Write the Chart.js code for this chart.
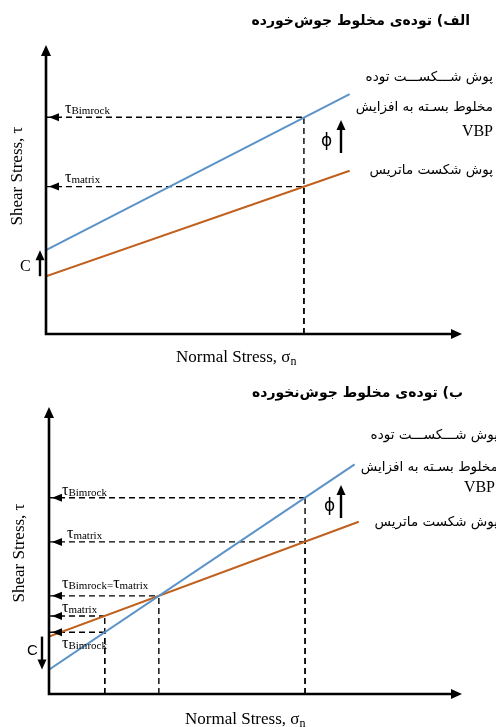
<!DOCTYPE html>
<html>
<head>
<meta charset="utf-8">
<script src="https://cdn.jsdelivr.net/npm/chart.js@4.4.1/dist/chart.umd.min.js"></script>
<style>
  html, body { margin: 0; padding: 0; background: #ffffff; }
  body { position: relative; width: 496px; height: 727px; overflow: hidden; }
  canvas { position: absolute; left: 0; }
</style>
</head>
<body>
<canvas id="panelA" width="496" height="365" style="top:0px"></canvas>
<canvas id="panelB" width="496" height="362" style="top:365px"></canvas>
<script>
// Both panels share the same schematic stress range
const sigmaRange = [0, 100];
const tauRange = [0, 100];

// (a) welded bimrock: failure envelopes as endpoints (sigma, tau)
const bimrockSigmaA = [0, 73];
const bimrockTauA = [29, 83];
const matrixSigmaA = [0, 73];
const matrixTauA = [20, 56.5];
// read-off points on the envelopes
const readSigmaA = [62, 62];
const readTauA = [75, 51];
const readLabelsA = ['τBimrock', 'τmatrix'];

// (b) unwelded bimrock
const bimrockSigmaB = [0, 74];
const bimrockTauB = [8.5, 80];
const matrixSigmaB = [0, 75];
const matrixTauB = [20, 60];
const readSigmaB = [62, 62, 26.6, 13.5, 13.5];
const readTauB = [68.4, 53, 34.2, 27.2, 21.5];
const readLabelsB = ['τBimrock', 'τmatrix', 'τBimrock=τmatrix', 'τmatrix', 'τBimrock'];

const titleA = 'الف) توده‌ی مخلوط جوش‌خورده';
const titleB = 'ب) توده‌ی مخلوط جوش‌نخورده';
// kashida (ـ) marks where justified lines are stretched
const bimrockNote = ['پوش شـکسـت توده', 'مخلوط بسـته به افزایش', 'VBP'];
const matrixNote = 'پوش شکست ماتریس';
const xTitle = ['Normal Stress, σ', 'n'];
const yTitle = 'Shear Stress, τ';

const BLUE = '#5b93c8';
const ORANGE = '#c0601d';
const INK = '#000000';
const SERIF = "'Liberation Serif', 'Times New Roman', serif";
const ARABIC = "'DejaVu Sans', sans-serif";

function pts(xs, ys) { return xs.map((x, i) => ({ x: x, y: ys[i] })); }

function guideSets(sig, tau) {
  const sets = [];
  sig.forEach((s, i) => {
    sets.push({ data: [{ x: sigmaRange[0], y: tau[i] }, { x: s, y: tau[i] }] });
    sets.push({ data: [{ x: s, y: tauRange[0] }, { x: s, y: tau[i] }] });
  });
  return sets.map(d => Object.assign(d, {
    borderColor: INK, borderWidth: 1.4, borderDash: [6, 4], pointRadius: 0, showLine: true, order: 2
  }));
}

function arrowHead(ctx, x, y, dir, len, half) {
  ctx.save();
  ctx.translate(x, y);
  ctx.rotate(dir);
  ctx.beginPath();
  ctx.moveTo(0, 0);
  ctx.lineTo(-len, -half);
  ctx.lineTo(-len, half);
  ctx.closePath();
  ctx.fill();
  ctx.restore();
}

function arrow(ctx, x, y0, y1) {
  // vertical arrow from y0 to tip y1
  const dir = y1 < y0 ? -Math.PI / 2 : Math.PI / 2;
  const sgn = y1 < y0 ? 1 : -1;
  ctx.beginPath();
  ctx.moveTo(x, y0);
  ctx.lineTo(x, y1 + sgn * 8);
  ctx.lineWidth = 2.4;
  ctx.stroke();
  arrowHead(ctx, x, y1, dir, 10, 4.5);
}

function tauText(ctx, x, y, label) {
  const pieces = label.split('τ');
  let cx = x;
  ctx.textAlign = 'left';
  ctx.textBaseline = 'alphabetic';
  pieces.forEach((p, i) => {
    if (i === 0) return;
    ctx.font = '16px ' + SERIF;
    ctx.fillText('τ', cx, y);
    cx += ctx.measureText('τ').width;
    ctx.font = '11px ' + SERIF;
    ctx.fillText(p, cx, y + 1);
    cx += ctx.measureText(p).width;
  });
}

// stretch the kashidas of a line until it fills the given width
function justified(ctx, text, width) {
  let best = text;
  for (let n = 2; n < 16; n++) {
    const t = text.replace(/ـ/g, 'ـ'.repeat(n));
    if (ctx.measureText(t).width > width) break;
    best = t;
  }
  return best;
}

function makePanel(id, cfg) {
  const decor = {
    id: 'decor' + id,
    afterDatasetsDraw(chart) {
      const ctx = chart.ctx;
      const xs = chart.scales.x, ys = chart.scales.y;
      const X = v => xs.getPixelForValue(v), Y = v => ys.getPixelForValue(v);
      const left = X(sigmaRange[0]), right = X(sigmaRange[1]);
      const bottom = Y(tauRange[0]), top = Y(tauRange[1]);
      ctx.save();
      ctx.fillStyle = INK;
      ctx.strokeStyle = INK;

      // axes with arrowheads
      ctx.lineWidth = 2.6;
      ctx.beginPath();
      ctx.moveTo(left, bottom);
      ctx.lineTo(left, top + 8);
      ctx.moveTo(left - 1.3, bottom);
      ctx.lineTo(right - 8, bottom);
      ctx.stroke();
      arrowHead(ctx, left, top, -Math.PI / 2, 11, 5);
      arrowHead(ctx, right, bottom, 0, 11, 5);

      // arrowheads on the read-off guides
      cfg.readTau.forEach(t => arrowHead(ctx, left + 3, Y(t), Math.PI, 10, 4));

      // read-off labels
      cfg.readLabels.forEach((lab, i) => {
        tauText(ctx, left + cfg.labelDx[i], Y(cfg.readTau[i]) + cfg.labelDy[i], lab);
      });

      // cohesion arrow: from matrix intercept to bimrock intercept
      arrow(ctx, left - cfg.cGap, Y(cfg.matrixTau[0]), Y(cfg.bimrockTau[0]));
      ctx.font = cfg.cFont;
      ctx.textAlign = 'left';
      ctx.textBaseline = 'alphabetic';
      ctx.fillText('C', cfg.cPos[0], cfg.cPos[1]);

      // friction-angle arrow
      arrow(ctx, 341, 153, 120);
      ctx.font = '17px ' + ARABIC;
      ctx.textBaseline = 'middle';
      ctx.fillText('ϕ', cfg.phiX, 142);

      // axis titles
      ctx.textBaseline = 'alphabetic';
      ctx.font = '17px ' + SERIF;
      ctx.fillText(xTitle[0], cfg.xTitle[0], cfg.xTitle[1]);
      const w = ctx.measureText(xTitle[0]).width;
      ctx.font = '12px ' + SERIF;
      ctx.fillText(xTitle[1], cfg.xTitle[0] + w, cfg.xTitle[1] + 3);

      ctx.save();
      ctx.translate(cfg.yTitle[0], cfg.yTitle[1]);
      ctx.rotate(-Math.PI / 2);
      ctx.font = '17px ' + SERIF;
      ctx.textAlign = 'center';
      ctx.fillText(yTitle, 0, 0);
      ctx.restore();

      // panel title and envelope notes (right-to-left)
      ctx.direction = 'rtl';
      ctx.textAlign = 'right';
      ctx.textBaseline = 'middle';
      ctx.font = 'bold 14px ' + ARABIC;
      ctx.fillText(cfg.title, cfg.titlePos[0], cfg.titlePos[1]);
      ctx.font = '13.5px ' + ARABIC;
      ctx.fillText(justified(ctx, bimrockNote[0], 134), cfg.noteRight, cfg.noteY[0]);
      ctx.fillText(justified(ctx, bimrockNote[1], 134), cfg.noteRight, cfg.noteY[1]);
      ctx.fillText(matrixNote, cfg.noteRight, cfg.noteY[3]);
      ctx.direction = 'ltr';
      ctx.font = '16px ' + SERIF;
      ctx.fillText(bimrockNote[2], cfg.vbpRight, cfg.noteY[2]);
      ctx.restore();
    }
  };

  return new Chart(document.getElementById(id), {
    type: 'scatter',
    data: {
      datasets: [
        { data: pts(cfg.bimrockSigma, cfg.bimrockTau), borderColor: BLUE, borderWidth: 2, showLine: true, pointRadius: 0, order: 1 },
        { data: pts(cfg.matrixSigma, cfg.matrixTau), borderColor: ORANGE, borderWidth: 2, showLine: true, pointRadius: 0, order: 1 }
      ].concat(guideSets(cfg.readSigma, cfg.readTau))
    },
    options: {
      responsive: false,
      animation: false,
      devicePixelRatio: 1,
      layout: { padding: cfg.padding },
      scales: {
        x: { type: 'linear', min: sigmaRange[0], max: sigmaRange[1], display: false },
        y: { type: 'linear', min: tauRange[0], max: tauRange[1], display: false }
      },
      plugins: { legend: { display: false }, tooltip: { enabled: false } }
    },
    plugins: [decor]
  });
}

makePanel('panelA', {
  padding: { left: 46, right: 34, top: 45, bottom: 31 },
  bimrockSigma: bimrockSigmaA, bimrockTau: bimrockTauA,
  matrixSigma: matrixSigmaA, matrixTau: matrixTauA,
  readSigma: readSigmaA, readTau: readTauA, readLabels: readLabelsA,
  labelDx: [19, 19], labelDy: [-4, -5],
  cGap: 6, cFont: '16px ' + SERIF, cPos: [20, 271],
  phiX: 321,
  xTitle: [176, 362], yTitle: [22, 176],
  title: titleA, titlePos: [470, 21],
  noteRight: 493, vbpRight: 493, noteY: [77, 107, 132, 170]
});

makePanel('panelB', {
  padding: { left: 49, right: 34, top: 42, bottom: 33 },
  bimrockSigma: bimrockSigmaB, bimrockTau: bimrockTauB,
  matrixSigma: matrixSigmaB, matrixTau: matrixTauB,
  readSigma: readSigmaB, readTau: readTauB, readLabels: readLabelsB,
  labelDx: [13, 18, 13, 13, 13], labelDy: [-3, -4, -8, -4, 16],
  cGap: 7, cFont: '15px "Liberation Sans", Arial, sans-serif', cPos: [27, 290],
  phiX: 324,
  xTitle: [185, 359], yTitle: [24, 188],
  title: titleB, titlePos: [463, 28],
  noteRight: 498, vbpRight: 495, noteY: [70, 102, 123, 157]
});
</script>
</body>
</html>
